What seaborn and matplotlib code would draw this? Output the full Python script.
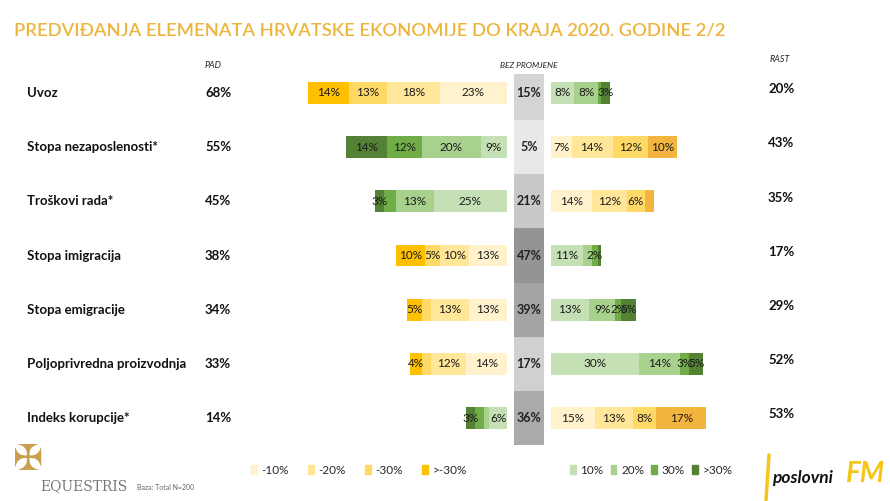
import numpy as np
import matplotlib
matplotlib.use("Agg")
import matplotlib.pyplot as plt
from matplotlib.patches import Patch
from matplotlib.lines import Line2D
from matplotlib import font_manager
import seaborn as sns

# --- data ---
rows = ["Uvoz", "Stopa nezaposlenosti*", "Troškovi rada*", "Stopa imigracija",
        "Stopa emigracije", "Poljoprivredna proizvodnja", "Indeks korupcije*"]
pad_total = [68, 55, 45, 38, 34, 33, 14]
rast_total = [20, 43, 35, 17, 29, 52, 53]
no_change = [15, 5, 21, 47, 39, 17, 36]
# segments from centre outwards: 10%, 20%, 30%, >30%
pad_seg = [[23, 18, 13, 14],
           [9, 20, 12, 14],
           [25, 13, 4, 3],
           [13, 10, 5, 10],
           [13, 13, 3, 5],
           [14, 12, 3, 4],
           [6, 2, 3, 3]]
rast_seg = [[8, 8, 1, 3],
            [7, 14, 12, 10],
            [14, 12, 6, 3],
            [11, 3, 2, 1],
            [13, 9, 2, 5],
            [30, 14, 3, 5],
            [15, 13, 8, 17]]
negative_indicator = [False, True, True, False, False, False, True]
hidden = {(0, "r", 2), (2, "p", 2), (2, "r", 3), (3, "r", 1), (3, "r", 3),
          (4, "p", 2), (5, "p", 2), (6, "p", 1), (6, "p", 2)}
pad_legend = ["-10%", "-20%", "-30%", ">-30%"]
rast_legend = ["10%", "20%", "30%", ">30%"]

YEL = ["#FFF2CC", "#FFE699", "#FFD966", "#FFC000"]
YEL_R = ["#FFF2CC", "#FFE699", "#FFD966", "#F3B53E"]
GRN = ["#C5E0B4", "#A9D18E", "#70AD47", "#548235"]

sns.set_theme(style="white")
plt.rcParams["font.family"] = ["Lato", "DejaVu Sans"]
names = {f.name for f in font_manager.fontManager.ttflist}
title_font = ["Liberation Sans Narrow", "Lato"] if "Liberation Sans Narrow" in names else ["Lato"]

W, H = 890, 501
fig = plt.figure(figsize=(8.9, 5.01), dpi=100)
fig.patch.set_facecolor("white")

PX = 2.93      # pixels per percent
CX = 529       # centre of the chart in pixels
TOP, BOT = 74, 448
ax = fig.add_axes([0, 1 - BOT / H, 1, (BOT - TOP) / H])
ax.set_xlim(-CX / PX, (W - CX) / PX)
row_px = 54.2
ax.set_ylim(6 + (BOT - 418) / row_px, -(93 - TOP) / row_px)
ax.axis("off")

gap = 22 / PX
half_gray = 15 / PX
bar_h = 22 / row_px
y = np.arange(len(rows))

# centre column (no change)
gvals = np.array(no_change)
shade = 0.91 - (gvals - gvals.min()) / (gvals.max() - gvals.min()) * 0.33
ax.barh(y, 2 * half_gray, left=-half_gray, height=1.0,
        color=[str(s) for s in shade], linewidth=0)
for i, v in enumerate(no_change):
    ax.text(0, i, f"{v}%", ha="center", va="center", fontsize=9,
            fontweight="bold", color="#222222")

for i in range(len(rows)):
    lcol = GRN if negative_indicator[i] else YEL
    rcol = YEL_R if negative_indicator[i] else GRN
    cum = gap
    for k, v in enumerate(pad_seg[i]):
        ax.barh(i, v, left=-(cum + v), height=bar_h, color=lcol[k], linewidth=0)
        if (i, "p", k) not in hidden:
            ax.text(-(cum + v / 2), i, f"{v}%", ha="center", va="center",
                    fontsize=8.5, color="#1a1a1a")
        cum += v
    cum = gap
    for k, v in enumerate(rast_seg[i]):
        ax.barh(i, v, left=cum, height=bar_h, color=rcol[k], linewidth=0)
        if (i, "r", k) not in hidden:
            ax.text(cum + v / 2, i, f"{v}%", ha="center", va="center",
                    fontsize=8.5, color="#1a1a1a")
        cum += v

tr = ax.get_yaxis_transform()
for i, name in enumerate(rows):
    ax.text(27 / W, i, name, transform=tr, ha="left", va="center",
            fontsize=9.5, fontweight="bold", color="#111111")
    ax.text(205 / W, i, f"{pad_total[i]}%", transform=tr, ha="left",
            va="center", fontsize=9.5, fontweight="bold", color="#111111")
    ax.text(768 / W, i - 0.07, f"{rast_total[i]}%", transform=tr, ha="left",
            va="center", fontsize=9.5, fontweight="bold", color="#111111")

# headers
fig.text(14 / W, 1 - 30 / H, "PREDVIĐANJA ELEMENATA HRVATSKE EKONOMIJE DO KRAJA 2020. GODINE 2/2",
         family=title_font, fontsize=13.2, fontweight="semibold", color="#EDB53C",
         ha="left", va="center")
fig.text(205 / W, 1 - 65 / H, "PAD", fontsize=6.5, style="italic", ha="left", va="center")
fig.text(CX / W, 1 - 65 / H, "BEZ PROMJENE", fontsize=6, style="italic",
         ha="center", va="center")
fig.text(770 / W, 1 - 60 / H, "RAST", fontsize=6.5, style="italic", ha="left", va="center")

# legends
lh = [Patch(color=c, label=l) for c, l in zip(YEL, pad_legend)]
rh = [Patch(color=c, label=l) for c, l in zip(GRN, rast_legend)]
kw = dict(frameon=False, ncol=4, handlelength=0.5, handleheight=0.9,
          handletextpad=0.4, fontsize=8.5, loc="center left", borderaxespad=0)
fig.legend(handles=lh, bbox_to_anchor=(246 / W, 1 - 470 / H),
           columnspacing=1.6, **kw)
fig.legend(handles=rh, bbox_to_anchor=(565 / W, 1 - 470 / H),
           columnspacing=0.6, **kw)

# logos as text
fig.text(28 / W, 1 - 460 / H, "✠", family="DejaVu Sans", fontsize=26,
         color="#C9A14E", ha="center", va="center")
fig.text(40 / W, 1 - 486 / H, "EQUESTRIS", family="DejaVu Serif", fontsize=10,
         color="#7a7a7a", ha="left", va="center")
fig.text(137 / W, 1 - 487 / H, "Baza: Total N=200", fontsize=5, color="#666666",
         ha="left", va="center")
fig.add_artist(Line2D([769 / W, 766 / W], [1 - 455 / H, 1 - 500 / H],
                      color="#F5C518", linewidth=2.5))
fig.text(772 / W, 1 - 478 / H, "poslovni", fontsize=12.5, fontweight="bold",
         style="italic", color="#111111", ha="left", va="center")
fig.text(846 / W, 1 - 474 / H, "FM", fontsize=20, fontweight="bold",
         style="italic", color="#F5C518", ha="left", va="center")

fig.savefig("out.png", dpi=100)
